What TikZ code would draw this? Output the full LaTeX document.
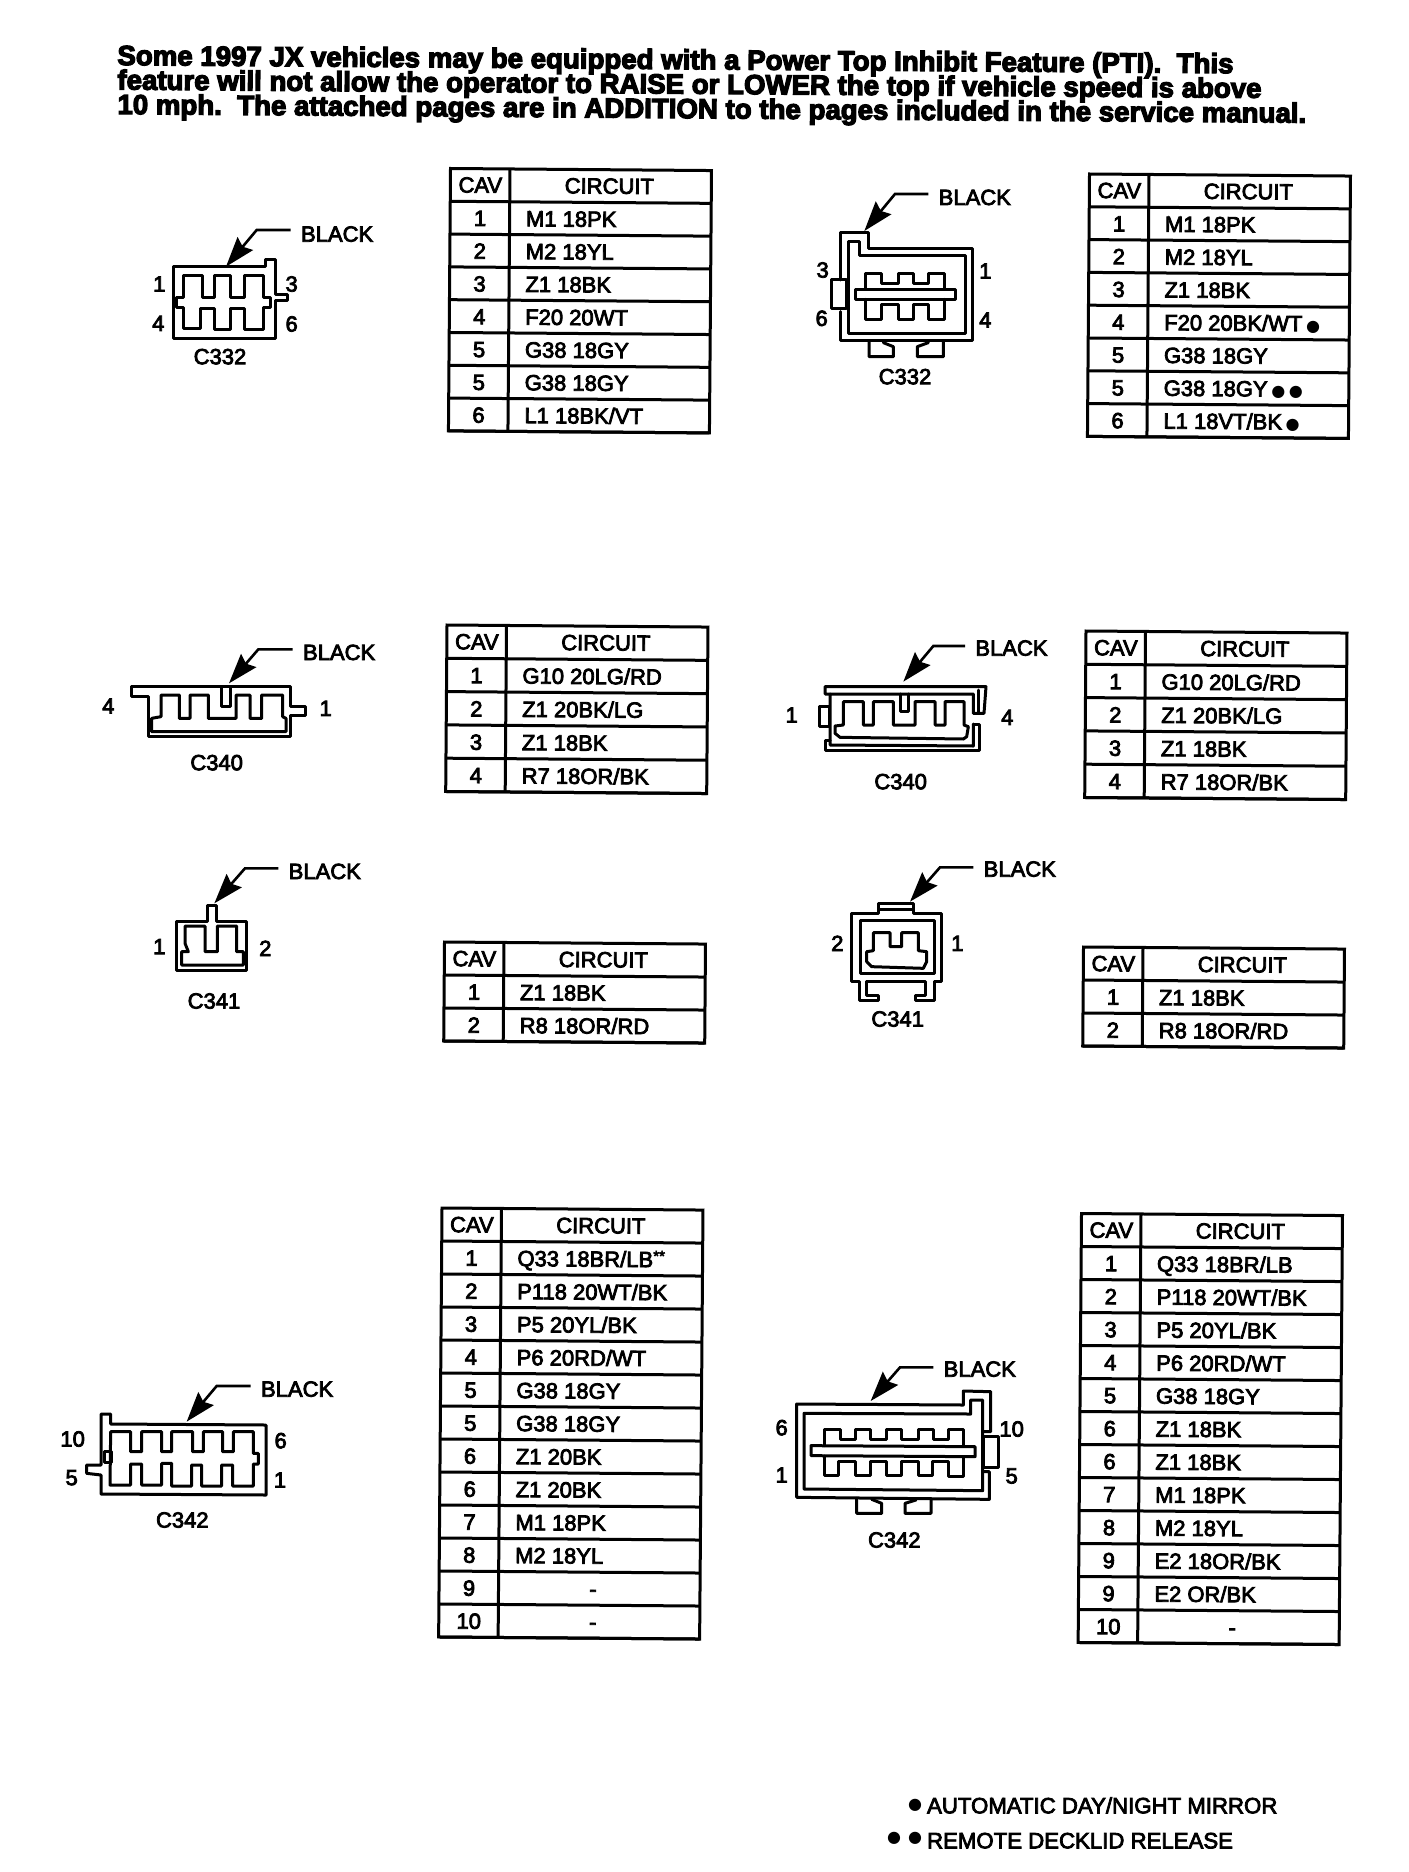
\documentclass[tikz,border=0pt]{standalone}
\usepackage{fontspec}
\usetikzlibrary{arrows.meta}
\setmainfont{Liberation Sans}
\newfontfamily\scanf{Liberation Sans}[RawFeature={embolden=3.6}]
\newfontfamily\titlef{Liberation Sans Bold}[RawFeature={embolden=4.5}]
\newfontfamily\dotf{DejaVu Sans}
\newcommand{\dotm}{{\dotf\fontsize{8}{8}\selectfont ●}}
\newcount\rowidx
\tikzset{
  tabline/.style={line width=1.5pt,line join=miter},
  shell/.style={line width=1.5pt,line join=round,line cap=round},
  leader/.style={line width=1.3pt,-{Stealth[inset=2pt,length=15pt,width=10pt]}},
  blk/.style={anchor=base west,inner xsep=5pt,inner ysep=0pt,font=\scanf\fontsize{11}{11}\selectfont},
  pinlab/.style={inner sep=0pt,font=\scanf\fontsize{11}{11}\selectfont},
  cell/.style={inner sep=0pt,font=\scanf\fontsize{11}{11}\selectfont},
  titleline/.style={anchor=base west,inner sep=0pt,rotate=-0.42,font=\titlef\fontsize{13.82}{13.82}\selectfont},
  footline/.style={anchor=base west,inner sep=0pt,font=\scanf\fontsize{11.1}{11.1}\selectfont},
  zoomed/.style args={#1,#2}{shift={(#1,#2)},scale=1/3}
}
% \cavtab{name}{x}{y}{number of rows, header included}{row height}{rows}
\newcommand{\cavtab}[6]{%
  \begin{scope}[shift={(#2,#3)},rotate=-0.45,transform shape]
    \def\tn{#1}\def\rh{#5}\global\rowidx=0
    \draw[tabline] (0,0) rectangle (261,#4*#5);
    \foreach \k in {1,...,#4}{\draw[tabline] (0,\k*#5) -- (261,\k*#5);}
    \draw[tabline] (59.5,0) -- (59.5,#4*#5);
    \node[cell] (#1-hcav) at (30,#5*0.5) {CAV};
    \node[cell] (#1-hcir) at (159,#5*0.5) {CIRCUIT};
    #6
  \end{scope}}
\newcommand{\tabrow}[2]{%
  \global\advance\rowidx by 1
  \node[cell,anchor=base] (\tn-c\the\rowidx) at (30,\the\numexpr\rowidx\relax*\rh+\rh*0.5+8) {#1};
  \node[cell,anchor=base west] (\tn-t\the\rowidx) at (75.5,\the\numexpr\rowidx\relax*\rh+\rh*0.5+8) {#2};}
\newcommand{\tabrowc}[2]{%
  \global\advance\rowidx by 1
  \node[cell,anchor=base] (\tn-c\the\rowidx) at (30,\the\numexpr\rowidx\relax*\rh+\rh*0.5+8) {#1};
  \node[cell,anchor=base] (\tn-t\the\rowidx) at (154,\the\numexpr\rowidx\relax*\rh+\rh*0.5+8) {#2};}
\begin{document}
\begin{tikzpicture}[x=0.5pt,y=-0.5pt]
\useasboundingbox (0,0) rectangle (1408,1872);
\fill[white] (0,0) rectangle (1408,1872);

% title
\node[titleline] (title1) at (117,65) {Some 1997 JX vehicles may be equipped with a Power Top Inhibit Feature (PTI).\ \ This};
\node[titleline] (title2) at (117,89.5) {feature will not allow the operator to RAISE or LOWER the top if vehicle speed is above};
\node[titleline] (title3) at (117,114) {10 mph.\ \ The attached pages are in ADDITION to the pages included in the service manual.};

% tables
\cavtab{ta}{450.5}{168.5}{8}{32.8}{%
  \tabrow{1}{M1 18PK}\tabrow{2}{M2 18YL}\tabrow{3}{Z1 18BK}\tabrow{4}{F20 20WT}%
  \tabrow{5}{G38 18GY}\tabrow{5}{G38 18GY}\tabrow{6}{L1 18BK/VT}}
\cavtab{tb}{1089.5}{174}{8}{32.8}{%
  \tabrow{1}{M1 18PK}\tabrow{2}{M2 18YL}\tabrow{3}{Z1 18BK}\tabrow{4}{F20 20BK/WT\,\dotm}%
  \tabrow{5}{G38 18GY}\tabrow{5}{G38 18GY\,\dotm\,\dotm}\tabrow{6}{L1 18VT/BK\,\dotm}}
\cavtab{tc}{447}{625}{5}{33.3}{%
  \tabrow{1}{G10 20LG/RD}\tabrow{2}{Z1 20BK/LG}\tabrow{3}{Z1 18BK}\tabrow{4}{R7 18OR/BK}}
\cavtab{td}{1086}{631}{5}{33.3}{%
  \tabrow{1}{G10 20LG/RD}\tabrow{2}{Z1 20BK/LG}\tabrow{3}{Z1 18BK}\tabrow{4}{R7 18OR/BK}}
\cavtab{te}{444.5}{942}{3}{33}{%
  \tabrow{1}{Z1 18BK}\tabrow{2}{R8 18OR/RD}}
\cavtab{tf}{1083.5}{947}{3}{33}{%
  \tabrow{1}{Z1 18BK}\tabrow{2}{R8 18OR/RD}}
\cavtab{tg}{442}{1208}{13}{33}{%
  \tabrow{1}{Q33 18BR/LB\raisebox{3pt}{\fontsize{7.5}{7.5}\selectfont **}}\tabrow{2}{P118 20WT/BK}\tabrow{3}{P5 20YL/BK}\tabrow{4}{P6 20RD/WT}%
  \tabrow{5}{G38 18GY}\tabrow{5}{G38 18GY}\tabrow{6}{Z1 20BK}\tabrow{6}{Z1 20BK}%
  \tabrow{7}{M1 18PK}\tabrow{8}{M2 18YL}\tabrowc{9}{-}\tabrowc{10}{-}}
\cavtab{th}{1081.5}{1213.5}{13}{33}{%
  \tabrow{1}{Q33 18BR/LB}\tabrow{2}{P118 20WT/BK}\tabrow{3}{P5 20YL/BK}\tabrow{4}{P6 20RD/WT}%
  \tabrow{5}{G38 18GY}\tabrow{6}{Z1 18BK}\tabrow{6}{Z1 18BK}\tabrow{7}{M1 18PK}%
  \tabrow{8}{M2 18YL}\tabrow{9}{E2 18OR/BK}\tabrow{9}{E2 OR/BK}\tabrowc{10}{-}}

% C332 left
\begin{scope}[zoomed={140,210}]
  \draw[shell] (100,170) -- (375,170) -- (375,148) -- (405,148) -- (405,255) -- (443,255) -- (443,272) -- (405,272) -- (405,385) -- (100,385) -- cycle;
  \draw[shell] (130,198) -- (187,198) -- (187,262) -- (222,262) -- (222,198) -- (272,198) -- (272,262) -- (312,262) -- (312,198) -- (370,198) -- (370,262) -- (392,262) -- (392,292) -- (370,292) -- (370,360) -- (312,360) -- (312,295) -- (272,295) -- (272,360) -- (222,360) -- (222,295) -- (182,295) -- (182,355) -- (130,355) -- (130,292) -- (110,292) -- (110,262) -- (130,262) -- cycle;
  \node[blk] (b1) at (452,95) {BLACK};
  \coordinate (k1) at (350,60); \coordinate (t1) at (258,170);
  \draw[leader] (b1.west |- k1) -- (k1) -- (t1);
  \node[pinlab] (p1a) at (58,222) {1};
  \node[pinlab] (p1b) at (55,340) {4};
  \node[pinlab] (p1c) at (455,222) {3};
  \node[pinlab] (p1d) at (455,342) {6};
  \node[pinlab] (n1) at (240,440) {C332};
\end{scope}

% C332 right
\begin{scope}[zoomed={800,170}]
  \draw[shell] (122,330) -- (122,188) -- (205,188) -- (205,235) -- (517,235) -- (517,512) -- (122,512) -- (122,425);
  \draw[shell] (95,330) rectangle (140,415);
  \draw[shell] (145,215) -- (178,215) -- (178,258) -- (495,258) -- (495,490) -- (145,490) -- cycle;
  \draw[shell] (165,358) rectangle (467,388);
  \draw[shell] (197,358) -- (197,310) -- (243,310) -- (243,340) -- (295,340) -- (295,310) -- (340,310) -- (340,340) -- (385,340) -- (385,310) -- (432,310) -- (432,358);
  \draw[shell] (197,388) -- (197,448) -- (243,448) -- (243,405) -- (295,405) -- (295,448) -- (340,448) -- (340,405) -- (385,405) -- (385,448) -- (432,448) -- (432,388);
  \draw[shell] (207,512) -- (207,560) -- (280,560) -- (280,530) -- (250,518);
  \draw[shell] (430,512) -- (430,560) -- (352,560) -- (352,530) -- (385,518);
  \node[blk] (b2) at (385,105) {BLACK};
  \coordinate (k2) at (285,72); \coordinate (t2) at (193,183);
  \draw[leader] (b2.west |- k2) -- (k2) -- (t2);
  \node[pinlab] (p2a) at (68,300) {3};
  \node[pinlab] (p2b) at (65,445) {6};
  \node[pinlab] (p2c) at (556,303) {1};
  \node[pinlab] (p2d) at (556,450) {4};
  \node[pinlab] (n2) at (315,620) {C332};
\end{scope}

% C340 left and C341 left
\begin{scope}[zoomed={80,620}]
  \draw[shell] (155,200) -- (630,200) -- (630,258) -- (675,258) -- (675,285) -- (630,285) -- (630,350) -- (205,350) -- (205,230) -- (155,230) -- cycle;
  \draw[shell] (243,225) -- (298,225) -- (298,295) -- (330,295) -- (330,225) -- (385,225) -- (385,295) -- (468,295) -- (468,225) -- (510,225) -- (510,295) -- (545,295) -- (545,225) -- (608,225) -- (608,290) -- (618,295) -- (618,335) -- (215,335) -- (215,295) -- (243,290) -- cycle;
  \draw[shell] (425,200) -- (425,258) -- (452,258) -- (452,200);
  \node[blk] (b3) at (638,120) {BLACK};
  \coordinate (k3) at (535,88); \coordinate (t3) at (447,190);
  \draw[leader] (b3.west |- k3) -- (k3) -- (t3);
  \node[pinlab] (p3a) at (85,258) {4};
  \node[pinlab] (p3b) at (737,265) {1};
  \node[pinlab] (n3) at (410,428) {C340};

  \draw[shell] (290,903) -- (382,903) -- (382,855) -- (408,855) -- (408,903) -- (500,903) -- (500,1052) -- (290,1052) -- cycle;
  \draw[shell] (315,918) -- (375,918) -- (375,995) -- (412,995) -- (412,918) -- (470,918) -- (470,995) -- (490,995) -- (490,1035) -- (305,1035) -- (305,995) -- (325,995) -- (315,970) -- cycle;
  \node[blk] (b5) at (595,777) {BLACK};
  \coordinate (k5) at (495,745); \coordinate (t5) at (403,850);
  \draw[leader] (b5.west |- k5) -- (k5) -- (t5);
  \node[pinlab] (p5a) at (238,980) {1};
  \node[pinlab] (p5b) at (556,985) {2};
  \node[pinlab] (n5) at (402,1143) {C341};
\end{scope}

% C340 right and C341 right
\begin{scope}[zoomed={760,620}]
  \draw[shell] (640,280) -- (672,280) -- (678,200) -- (195,200) -- (195,222) -- (210,222);
  \draw[shell] (640,312) -- (657,312) -- (657,390) -- (195,390) -- (195,360) -- (210,360);
  \draw[shell] (640,280) -- (640,222) -- (210,222) -- (210,375) -- (640,378) -- (640,312);
  \draw[shell] (655,210) -- (655,275);
  \draw[shell] (178,258) rectangle (208,320);
  \draw[shell] (250,245) -- (310,245) -- (310,315) -- (340,315) -- (340,245) -- (400,245) -- (400,315) -- (465,315) -- (465,245) -- (525,245) -- (525,315) -- (555,315) -- (555,245) -- (612,245) -- (612,315) -- (625,320) -- (620,350) -- (610,357) -- (240,352) -- (225,340) -- (225,318) -- (250,315) -- cycle;
  \draw[shell] (420,222) -- (420,275) -- (445,275) -- (445,222);
  \node[blk] (b4) at (615,107) {BLACK};
  \coordinate (k4) at (520,78); \coordinate (t4) at (430,185);
  \draw[leader] (b4.west |- k4) -- (k4) -- (t4);
  \node[pinlab] (p4a) at (95,285) {1};
  \node[pinlab] (p4b) at (742,292) {4};
  \node[pinlab] (n4) at (422,485) {C340};

  \draw[shell] (275,880) -- (355,880) -- (355,850) -- (460,850) -- (460,880) -- (543,880) -- (543,1085) -- (522,1085) -- (522,1140) -- (465,1140) -- (465,1125) -- (497,1125) -- (497,1085) -- (320,1085) -- (320,1125) -- (355,1125) -- (355,1140) -- (298,1140) -- (298,1085) -- (275,1085) -- cycle;
  \draw[shell] (300,900) -- (522,900) -- (522,1060) -- (300,1060) -- cycle;
  \draw[shell] (358,868) -- (460,868);
  \draw[shell] (340,938) -- (390,938) -- (390,980) -- (425,980) -- (425,938) -- (475,938) -- (475,992) -- (500,995) -- (500,1025) -- (490,1045) -- (335,1040) -- (320,1025) -- (320,995) -- (340,992) -- cycle;
  \node[blk] (b6) at (640,770) {BLACK};
  \coordinate (k6) at (540,742); \coordinate (t6) at (450,845);
  \draw[leader] (b6.west |- k6) -- (k6) -- (t6);
  \node[pinlab] (p6a) at (232,970) {2};
  \node[pinlab] (p6b) at (592,970) {1};
  \node[pinlab] (n6) at (413,1197) {C341};
\end{scope}

% C342 left
\begin{scope}[zoomed={40,1340}]
  \draw[shell] (183,222) -- (212,222) -- (212,252) -- (678,255) -- (678,465) -- (183,462) -- (183,405) -- (140,400) -- (140,375) -- (183,375) -- cycle;
  \draw[shell] (192,335) rectangle (215,368);
  \draw[shell] (212,275) -- (272,275) -- (272,335) -- (305,335) -- (305,275) -- (365,275) -- (365,335) -- (395,335) -- (395,275) -- (458,275) -- (458,335) -- (490,335) -- (490,275) -- (548,275) -- (548,335) -- (580,335) -- (580,275) -- (640,275) -- (640,340) -- (655,340) -- (655,372) -- (640,372) -- (640,438) -- (578,438) -- (578,375) -- (545,375) -- (545,438) -- (485,438) -- (485,375) -- (455,375) -- (455,438) -- (395,438) -- (395,370) -- (365,370) -- (365,435) -- (305,435) -- (305,372) -- (272,372) -- (272,435) -- (210,435) -- cycle;
  \node[blk] (b7) at (632,170) {BLACK};
  \coordinate (k7) at (530,138); \coordinate (t7) at (440,245);
  \draw[leader] (b7.west |- k7) -- (k7) -- (t7);
  \node[pinlab] (p7a) at (98,297) {10};
  \node[pinlab] (p7b) at (95,413) {5};
  \node[pinlab] (p7c) at (722,302) {6};
  \node[pinlab] (p7d) at (720,420) {1};
  \node[pinlab] (n7) at (427,540) {C342};
\end{scope}

% C342 right
\begin{scope}[zoomed={750,1340}]
  \draw[shell] (700,275) -- (722,275) -- (722,155) -- (640,153) -- (640,195) -- (140,192) -- (140,472) -- (718,478) -- (718,395) -- (700,395);
  \draw[shell] (700,290) rectangle (745,382);
  \draw[shell] (162,220) -- (662,222) -- (662,180) -- (698,180) -- (698,452) -- (162,447) -- cycle;
  \draw[shell] (183,317) -- (675,320) -- (675,350) -- (183,347) -- cycle;
  \draw[shell] (222,317) -- (222,267) -- (270,267) -- (270,298) -- (315,298) -- (315,267) -- (362,267) -- (362,298) -- (408,298) -- (408,267) -- (455,267) -- (455,298) -- (505,298) -- (505,267) -- (550,267) -- (550,298) -- (595,298) -- (595,267) -- (640,267) -- (640,319);
  \draw[shell] (222,348) -- (222,407) -- (265,407) -- (265,365) -- (315,365) -- (315,407) -- (360,407) -- (360,365) -- (408,365) -- (408,407) -- (455,407) -- (455,365) -- (505,365) -- (505,407) -- (548,407) -- (548,365) -- (595,365) -- (595,410) -- (640,410) -- (640,350);
  \draw[shell] (320,475) -- (320,520) -- (395,520) -- (395,490) -- (365,478);
  \draw[shell] (543,478) -- (543,520) -- (465,520) -- (465,490) -- (498,480);
  \node[blk] (b8) at (550,110) {BLACK};
  \coordinate (k8) at (450,82); \coordinate (t8) at (362,183);
  \draw[leader] (b8.west |- k8) -- (k8) -- (t8);
  \node[pinlab] (p8a) at (95,263) {6};
  \node[pinlab] (p8b) at (95,405) {1};
  \node[pinlab] (p8c) at (785,267) {10};
  \node[pinlab] (p8d) at (785,408) {5};
  \node[pinlab] (n8) at (433,600) {C342};
\end{scope}

% footnotes
\begin{scope}[zoomed={880,1780}]
  \node[footline] (fa) at (140,100) {AUTOMATIC DAY/NIGHT MIRROR};
  \node[inner sep=0pt] (fad) at (105,75) {\dotm};
  \node[footline] (fb) at (140,205) {REMOTE DECKLID RELEASE};
  \node[inner sep=0pt] (fbd1) at (42,175) {\dotm};
  \node[inner sep=0pt] (fbd2) at (105,175) {\dotm};
\end{scope}
\end{tikzpicture}
\end{document}
